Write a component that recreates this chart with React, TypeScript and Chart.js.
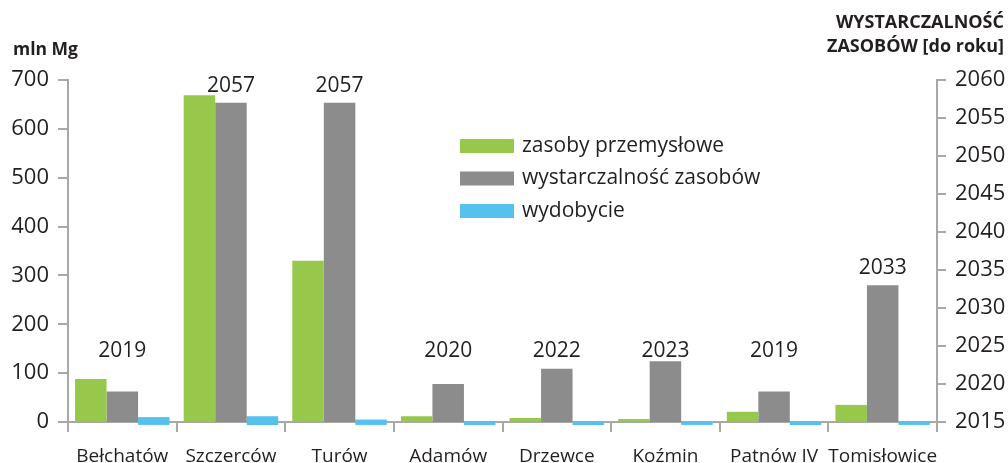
import React, { useEffect, useRef } from "react";
import { Chart, registerables } from "chart.js";

Chart.register(...registerables);

const categories = ["Bełchatów", "Szczerców", "Turów", "Adamów", "Drzewce", "Koźmin", "Patnów IV", "Tomisłowice"];
const zasoby = [88, 669, 330, 12, 8, 6, 21, 35];
const wystarczalnosc = [2019, 2057, 2057, 2020, 2022, 2023, 2019, 2033];
const wydobycie = [10, 12, 5, 2, 2, 2, 2, 2];
const leftTicksMax = 700;
const rightTicksMin = 2015;
const rightTicksMax = 2060;
const seriesLabels = ["zasoby przemysłowe", "wystarczalność zasobów", "wydobycie"];
const leftTitle = "mln Mg";
const rightTitle = ["WYSTARCZALNOŚĆ", "ZASOBÓW [do roku]"];

const GREEN = "#97C84B";
const GREY = "#8C8C8C";
const BLUE = "#56C1EC";
const AXIS = "#A8A8A8";
const TEXT = "#231F20";
const FONT = "'Open Sans', sans-serif";

const overlayPlugin = {
  id: "overlay",
  afterDatasetsDraw(chart: any) {
    const ctx = chart.ctx;
    ctx.save();
    // year labels above grey bars
    const meta = chart.getDatasetMeta(1);
    const y2 = chart.scales.y2;
    const floorY = y2.getPixelForValue(2024.3);
    ctx.fillStyle = TEXT;
    ctx.font = `21px ${FONT}`;
    ctx.textAlign = "center";
    ctx.textBaseline = "middle";
    meta.data.forEach((bar: any, i: number) => {
      const y = bar.y - floorY >= 8 ? floorY : bar.y - 17;
      ctx.fillText(String(wystarczalnosc[i]), bar.x, y);
    });
    // legend
    const lx = 460;
    const ly = 146;
    const step = 32.5;
    chart.data.datasets.forEach((ds: any, i: number) => {
      const cy = ly + i * step;
      ctx.fillStyle = ds.backgroundColor;
      ctx.fillRect(lx, cy - 7, 54, 14);
      ctx.fillStyle = TEXT;
      ctx.font = `21px ${FONT}`;
      ctx.textAlign = "left";
      ctx.textBaseline = "middle";
      ctx.fillText(ds.label, lx + 62, cy);
    });
    // axis titles
    ctx.font = `bold 17.5px ${FONT}`;
    ctx.textAlign = "left";
    ctx.fillText(leftTitle, 13, 50);
    ctx.font = `bold 18px ${FONT}`;
    ctx.textAlign = "right";
    ctx.fillText(rightTitle[0], 1004, 23);
    ctx.fillText(rightTitle[1], 1004, 47);
    ctx.restore();
  },
};

export default function App() {
  const ref = useRef<HTMLCanvasElement>(null);
  useEffect(() => {
    const chart = new Chart(ref.current!, {
      type: "bar",
      data: {
        labels: categories,
        datasets: [
          { label: seriesLabels[0], data: zasoby, backgroundColor: GREEN, yAxisID: "y", categoryPercentage: 0.87, barPercentage: 1 },
          { label: seriesLabels[1], data: wystarczalnosc, backgroundColor: GREY, yAxisID: "y2", categoryPercentage: 0.87, barPercentage: 1 },
          { label: seriesLabels[2], data: wydobycie, backgroundColor: BLUE, yAxisID: "y", base: -6, clip: false, categoryPercentage: 0.87, barPercentage: 1 },
        ],
      },
      options: {
        animation: false,
        responsive: false,
        maintainAspectRatio: false,
        layout: { padding: { top: 80, left: 0, right: 0, bottom: 0 } },
        plugins: { legend: { display: false }, tooltip: { enabled: false } },
        scales: {
          x: {
            offset: true,
            grid: { display: true, drawOnChartArea: false, drawTicks: true, tickLength: 10, color: AXIS, lineWidth: 2, offset: true },
            border: { display: true, color: AXIS, width: 2 },
            ticks: { color: TEXT, font: { family: FONT, size: 19 }, padding: 13, maxRotation: 0, autoSkip: false },
            afterFit: (s: any) => { s.height = 41; },
          },
          y: {
            position: "left",
            min: 0,
            max: leftTicksMax,
            grid: { display: true, drawOnChartArea: false, drawTicks: true, tickLength: 10, color: AXIS, lineWidth: 2 },
            border: { display: true, color: AXIS, width: 2 },
            ticks: { stepSize: 100, color: TEXT, font: { family: FONT, size: 22 }, padding: 9 },
            afterFit: (s: any) => { s.width = 68; },
          },
          y2: {
            position: "right",
            min: rightTicksMin,
            max: rightTicksMax,
            grid: { display: true, drawOnChartArea: false, drawTicks: true, tickLength: 9, color: AXIS, lineWidth: 2 },
            border: { display: true, color: AXIS, width: 2 },
            ticks: { stepSize: 5, color: TEXT, font: { family: FONT, size: 22 }, padding: 9, callback: (v: any) => String(v) },
            afterFit: (s: any) => { s.width = 71; },
          },
        },
      },
      plugins: [overlayPlugin],
    } as any);
    return () => chart.destroy();
  }, []);
  return (
    <div style={{ position: "fixed", left: 0, top: 0, width: 1008, height: 463, background: "#fff" }}>
      <canvas ref={ref} width={1008} height={463} style={{ width: 1008, height: 463 }} />
    </div>
  );
}
